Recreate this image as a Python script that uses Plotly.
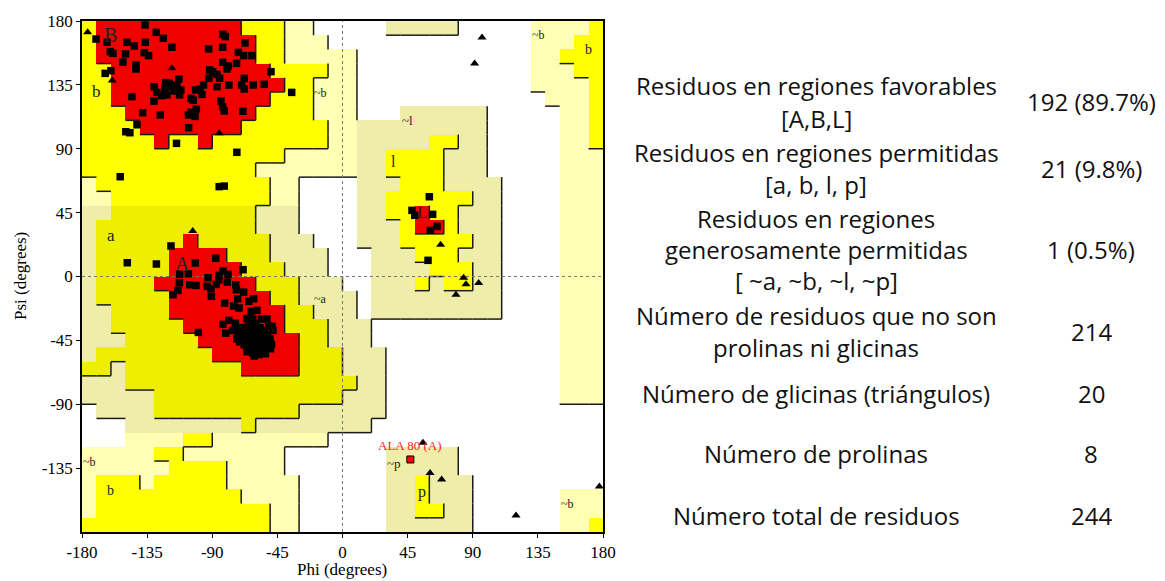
import plotly.graph_objects as go

# ---------------- data ----------------
phi_tick_values = [-180, -135, -90, -45, 0, 45, 90, 135, 180]
phi_tick_labels = ["-180", "-135", "-90", "-45", "0", "45", "90", "135", "180"]
psi_tick_values = [-135, -90, -45, 0, 45, 90, 135, 180]
psi_tick_labels = ["-135", "-90", "-45", "0", "45", "90", "135", "180"]
x_title = "Phi (degrees)"
y_title = "Psi (degrees)"

# Region map, 10-degree cells. Rows: psi 180 -> -180, columns: phi -180 -> 180.
# codes: '.' disallowed, 'p' generous (~b), 'k' generous (~a,~l,~p),
#        'Y' allowed (b,l,p), 'y' allowed (a), 'R' core (A,B,L)
region_runs = [
    "Y1 R10 Y3 p2 .5 k5 .5 p4 Y1",
    "Y1 R11 Y2 p3 .14 p3 Y2",
    "Y1 R11 Y2 p5 .12 p2 Y3",
    "Y2 R11 Y4 p2 .12 p3 Y2",
    "Y2 R12 Y2 p3 .12 p4 Y1",
    "Y2 R11 Y3 p3 .13 p3 Y1",
    "Y3 R9 Y4 p3 .3 k6 .5 p2 Y1",
    "Y4 R7 Y6 p2 k9 .5 p2 Y1",
    "Y5 R1 Y2 R1 Y8 p2 k5 Y2 k2 .5 p2 Y1",
    "Y14 p5 k2 Y4 k3 .5 p3",
    "Y12 p7 k2 Y4 k3 .5 p3",
    "p1 Y12 p2 .4 k3 Y3 k4 .4 p3",
    "p2 Y11 p2 .4 k2 Y6 k2 .4 p3",
    "k2 y10 k3 .4 k2 Y2 R1 Y2 k3 .4 p3",
    "k1 y11 k3 .4 k3 Y1 R2 Y1 k3 .4 p3",
    "k1 y6 R1 y5 k3 .3 k3 Y5 k2 .4 p3",
    "k1 y5 R4 y3 k4 .3 k3 Y3 k3 .4 p3",
    "k1 y5 R5 y3 k3 .3 k4 Y3 k2 .4 p3",
    "k1 y4 R7 y3 k3 .2 k3 Y1 k1 Y2 k2 .4 p3",
    "k1 y5 R7 y2 k4 .1 k9 .4 p3",
    "k2 y4 R8 y2 k3 .1 k9 .4 p3",
    "k2 y5 R7 y3 k3 .13 p3",
    "k3 y5 R7 y2 k3 .13 p3",
    "k1 y8 R6 y3 k3 .12 p3",
    "y2 k1 y8 R4 y3 k3 .12 p3",
    "k3 y16 k2 .12 p3",
    "k5 y13 k3 .12 p3",
    ".1 k4 y10 k6 .15",
    ".3 k8 y1 k8 .16",
    ".3 p4 Y2 p8 .19",
    "p5 Y2 p7 .7 k5 .10",
    "p6 Y4 p4 .7 k5 .10",
    "p1 Y3 p1 Y5 p5 .6 k2 Y1 k3 .9",
    "p1 Y10 p4 .6 k2 Y1 k3 .6 p3",
    "p1 Y12 p2 .6 k2 Y2 k2 .6 p3",
    "Y13 p2 .6 k6 .6 p2 Y1",
]

# non-glycine residues (squares)
sq_phi = [
    -136.4, -170.3, -162.7, -128.7, -123.8, -149.0, -136.3, -143.9, -117.9, -160.5,
    -158.6, -149.9, -137.0, -134.0, -151.7, -142.7, -142.7, -160.0, -164.0, -82.8,
    -81.0, -92.5, -82.8, -67.4, -72.0, -68.3, -62.6, -82.8, -78.9, -79.8,
    -73.2, -49.4, -35.1, -91.8, -89.7, -86.7, -92.3, -84.9, -113.0, -67.9,
    -78.5, -69.7, -67.9, -61.7, -54.1, -86.7, -96.0, -98.5, -101.5, -97.1,
    -122.2, -119.7, -118.1, -114.4, -111.7, -116.3, -130.1, -128.3, -122.7, -121.3,
    -125.0, -112.6, -130.3, -145.5, -104.7, -103.1, -84.0, -82.8, -81.7, -101.0,
    -104.7, -101.9, -106.5, -125.9, -138.1, -68.8, -142.0, -106.3, -149.7, -146.9,
    -114.7, -73.0, -153.6, -85.2, -81.7,
    -118.5, -128.6, -148.7, -101.7, -87.6, -112.5, -106.5, -112.7, -105.6, -101.2,
    -113.7, -117.1, -92.9, -85.3, -82.6, -79.1, -85.5, -79.6, -93.6, -90.9,
    -87.2, -73.8, -73.3, -68.3, -68.7, -90.6, -81.4, -72.4, -64.8, -61.4,
    -63.2, -75.2, -71.5, -78.6, -82.6, -80.7, -99.6, -59.1, -74.0, -53.3,
    -49.8, -48.7, -52.2, -66.0,
    -70.0, -68.0, -66.0, -64.0, -62.0, -60.0, -58.0, -56.0, -54.0, -65.0,
    -63.0, -61.0, -59.0, -57.0, -55.0, -53.0, -67.0, -65.0, -63.0, -61.0,
    -59.0, -62.0, -58.0, -66.0, -68.0, -70.0, -72.0, -60.0, -57.0, -54.0,
    -52.0, -50.0, -51.0, -48.0, -49.0, -56.0, -62.0, -74.0, -76.0, -64.0,
    -60.0, -58.0, -62.0, -64.0, -66.0, -60.0, -63.0, -57.0, -61.0, -65.0,
    -59.0, -55.0, -67.0, -69.0, -53.0, -57.0, -61.0, -66.0, -71.0, -73.0,
    60.0, 48.0, 49.9, 62.3, 65.3, 60.7, 59.1,
]
sq_psi = [
    177.2, 167.3, 165.0, 172.0, 167.8, 165.0, 165.0, 162.4, 161.5, 158.4,
    157.2, 156.8, 157.7, 155.6, 151.1, 149.0, 146.2, 145.0, 143.1, 170.6,
    169.0, 160.3, 161.5, 164.5, 157.9, 155.6, 155.6, 150.9, 148.3, 146.2,
    150.2, 144.3, 129.7, 145.5, 144.3, 142.4, 139.6, 139.6, 139.2, 139.6,
    134.9, 134.9, 132.1, 134.9, 135.4, 133.7, 134.9, 132.1, 131.4, 128.3,
    136.6, 136.1, 133.7, 134.9, 131.4, 130.7, 133.7, 129.7, 132.6, 127.9,
    127.4, 127.9, 123.6, 126.7, 125.5, 124.1, 123.6, 119.6, 116.6, 118.0,
    115.7, 112.8, 113.8, 113.8, 115.4, 116.4, 106.9, 104.8, 102.0, 101.3,
    93.8, 87.5, 70.3, 63.3, 63.7,
    21.5, 8.8, 9.7, 9.5, 12.8, 1.5, 1.9, -4.4, -5.8, -6.3,
    -9.8, -12.8, -0.9, 0.8, 3.9, 1.5, -2.3, -3.9, -6.9, -8.6,
    -5.6, -5.8, -9.3, -11.0, 4.8, -14.0, -18.7, -15.7, -17.5, -15.7,
    -24.6, -20.8, -22.2, -30.9, -33.7, -39.9, -39.4, -23.9, -36.8, -54.4,
    -50.9, -35.1, -29.7, -29.7,
    -36.0, -38.0, -40.0, -42.0, -44.0, -46.0, -48.0, -50.0, -52.0, -35.0,
    -37.0, -39.0, -41.0, -43.0, -45.0, -47.0, -44.0, -46.0, -48.0, -50.0,
    -52.0, -54.0, -55.0, -50.0, -48.0, -43.0, -40.0, -33.0, -36.0, -38.0,
    -41.0, -44.0, -35.0, -38.0, -48.0, -30.0, -30.0, -33.0, -38.0, -52.0,
    -38.0, -40.0, -41.0, -38.0, -42.0, -43.0, -45.0, -46.0, -47.0, -48.0,
    -44.0, -42.0, -39.0, -41.0, -50.0, -53.0, -56.0, -53.0, -46.0, -44.0,
    56.2, 46.6, 43.1, 43.8, 35.3, 32.5, 11.4,
]

# glycines (triangles)
gly_phi = [-176.1, -117.9, -159.1, -85.2, -103.5, 96.4, 91.3, 67.8, 83.7, 85.3,
           94.1, 78.4, 55.6, 60.5, 68.5, 119.9, 177.5]
gly_psi = [172.0, 146.7, 138.0, 100.9, 32.0, 168.3, 150.0, 22.4, -0.9, -5.5,
           -4.6, -12.8, -117.1, -138.5, -143.0, -168.3, -147.9]

# labelled outlier
outlier_phi = [46.9]
outlier_psi = [-128.9]
outlier_label = ["ALA 80 (A)"]

# region labels
region_label_text = ["B", "A", "L", "b", "a", "l", "p", "b", "b",
                     "~b", "~b", "~l", "~a", "~b", "~p", "~b"]
region_label_phi = [-160.4, -110.9, 55.0, -170.1, -160.2, 35.4, 54.7, -160.4, 170.1,
                    -15.3, 135.6, 45.0, -15.3, -174.7, 35.3, 155.2]
region_label_psi = [170.0, 9.0, 45.4, 130.0, 29.0, 80.7, -151.9, -150.7, 159.8,
                    129.3, 170.4, 110.0, -16.1, -130.8, -131.5, -160.6]

# statistics table
stat_labels = [
    ["Residuos en regiones favorables", "[A,B,L]"],
    ["Residuos en regiones permitidas", "[a, b, l, p]"],
    ["Residuos en regiones", "generosamente permitidas", "[ ~a, ~b, ~l, ~p]"],
    ["Número de residuos que no son", "prolinas ni glicinas"],
    ["Número de glicinas (triángulos)"],
    ["Número de prolinas"],
    ["Número total de residuos"],
]
stat_values = ["192 (89.7%)", "21 (9.8%)", "1 (0.5%)", "214", "20", "8", "244"]

# ---------------- build ----------------
CODE_Z = {".": 0, "p": 1, "k": 2, "Y": 3, "y": 4, "R": 5}
CODE_LEVEL = {".": 0, "p": 1, "k": 1, "Y": 2, "y": 2, "R": 3}
COLORS = ["#FFFFFF", "#FFFFB4", "#EEEEAA", "#FFFF00", "#EEEE00", "#F20000"]


def expand(runs):
    s = ""
    for tok in runs.split():
        s += tok[0] * int(tok[1:])
    assert len(s) == 36, (runs, len(s))
    return s


grid = [expand(r) for r in region_runs]
z = [[CODE_Z[ch] for ch in row] for row in grid]
lev = [[CODE_LEVEL[ch] for ch in row] for row in grid]
cell_x = [-175 + 10 * i for i in range(36)]
cell_y = [175 - 10 * j for j in range(36)]

cs = []
n = len(COLORS)
for i, col in enumerate(COLORS):
    cs.append([i / n, col])
    cs.append([(i + 1) / n, col])

fig = go.Figure()
fig.add_trace(go.Heatmap(x=cell_x, y=cell_y, z=z, colorscale=cs, zmin=-0.5, zmax=5.5,
                         showscale=False, hoverinfo="skip"))

# shadow edges (bottom / right edges where level drops)
ex, ey = [], []
for r in range(36):
    for c in range(36):
        L = lev[r][c]
        x0 = -180 + 10 * c
        x1 = x0 + 10
        yt = 180 - 10 * r
        yb = yt - 10
        if r < 35 and L > lev[r + 1][c]:
            ex += [x0, x1, None]
            ey += [yb, yb, None]
        if c < 35 and L > lev[r][c + 1]:
            ex += [x1, x1, None]
            ey += [yt, yb, None]
fig.add_trace(go.Scatter(x=ex, y=ey, mode="lines", line=dict(color="#1a1a1a", width=1.5),
                         hoverinfo="skip", showlegend=False))

# zero reference lines
fig.add_trace(go.Scatter(x=[0, 0], y=[-180, 180], mode="lines",
                         line=dict(color="#777777", width=1, dash="dot"),
                         hoverinfo="skip", showlegend=False))
fig.add_trace(go.Scatter(x=[-180, 180], y=[0, 0], mode="lines",
                         line=dict(color="#777777", width=1, dash="dot"),
                         hoverinfo="skip", showlegend=False))

fig.add_trace(go.Scatter(x=sq_phi, y=sq_psi, mode="markers",
                         marker=dict(symbol="square", size=7.5, color="black"),
                         showlegend=False))
fig.add_trace(go.Scatter(x=gly_phi, y=gly_psi, mode="markers",
                         marker=dict(symbol="triangle-up", size=8, color="black"),
                         showlegend=False))
fig.add_trace(go.Scatter(x=outlier_phi, y=outlier_psi, mode="markers",
                         marker=dict(symbol="square", size=7, color="#FF0000",
                                     line=dict(color="black", width=1)),
                         showlegend=False))

annotations = []
sizes = {"B": 20, "A": 20, "L": 17, "b": 17, "a": 17, "l": 16, "p": 16}
for i, (t, ph, ps) in enumerate(zip(region_label_text, region_label_phi, region_label_psi)):
    sz = sizes.get(t, 12)
    if t == "b" and i >= 7:
        sz = 14
    if t in ("~l", "~p"):
        sz = 13
    annotations.append(dict(x=ph, y=ps, xref="x", yref="y", text=t, showarrow=False,
                            font=dict(family="Liberation Serif", size=sz, color="#222")))
annotations.append(dict(x=outlier_phi[0], y=outlier_psi[0] + 3, xref="x", yref="y",
                        text=outlier_label[0], showarrow=False, yanchor="bottom",
                        font=dict(family="Liberation Serif", size=13, color="#FF2020")))

# page layout (page pixels; the page body adds an 8 px offset)
OFFSET = 8
FIG_W, FIG_H = 1165 - OFFSET, 581 - OFFSET
L_PAGE, R_PAGE, T_PAGE, B_PAGE = 82, 603, 21, 532
PLOT_W, PLOT_H = R_PAGE - L_PAGE, B_PAGE - T_PAGE
label_line_y = [[85, 118], [152, 184], [218, 249, 280], [315, 347], [393], [453], [515]]
value_y = [101, 168, 249, 331, 393, 453, 515]
label_x_px, value_x_px = 816, 1091


def px_to_paper(px, py):
    return (px - L_PAGE) / PLOT_W, (B_PAGE - py) / PLOT_H


axis_font = dict(family="Liberation Serif", size=17, color="black")
tick_font = dict(family="Liberation Serif", size=17, color="black")

# axis titles as annotations for precise placement
xp, yp = px_to_paper(342, 569)
annotations.append(dict(x=xp, y=yp, xref="paper", yref="paper", text=x_title,
                        showarrow=False, xanchor="center", yanchor="middle", font=axis_font))
xp, yp = px_to_paper(20, 276)
annotations.append(dict(x=xp, y=yp, xref="paper", yref="paper", text=y_title,
                        showarrow=False, xanchor="center", yanchor="middle", textangle=-90,
                        font=axis_font))

tfont = dict(family="Open Sans", size=24, color="#111")
for lines, ys, val, vy in zip(stat_labels, label_line_y, stat_values, value_y):
    for txt, py in zip(lines, ys):
        xp, yp = px_to_paper(label_x_px, py)
        annotations.append(dict(x=xp, y=yp, xref="paper", yref="paper", text=txt,
                                showarrow=False, xanchor="center", yanchor="middle",
                                font=tfont))
    xp, yp = px_to_paper(value_x_px, vy)
    annotations.append(dict(x=xp, y=yp, xref="paper", yref="paper", text=val,
                            showarrow=False, xanchor="center", yanchor="middle", font=tfont))

fig.update_layout(
    width=FIG_W, height=FIG_H,
    margin=dict(l=L_PAGE - OFFSET, r=FIG_W - (R_PAGE - OFFSET), t=T_PAGE - OFFSET,
                b=FIG_H - (B_PAGE - OFFSET), autoexpand=False),
    paper_bgcolor="white", plot_bgcolor="white",
    showlegend=False,
    annotations=annotations,
    xaxis=dict(range=[-180, 180], tickvals=phi_tick_values, ticktext=phi_tick_labels,
               ticks="outside", ticklen=4, tickcolor="black", showgrid=False, zeroline=False,
               showline=True, linecolor="black", linewidth=1.5, mirror=True, automargin=False,
               tickfont=tick_font),
    yaxis=dict(range=[-180, 180], tickvals=psi_tick_values, ticktext=psi_tick_labels,
               ticks="outside", ticklen=4, tickcolor="black", showgrid=False, zeroline=False,
               showline=True, linecolor="black", linewidth=1.5, mirror=True, automargin=False,
               tickfont=tick_font),
)

fig.write_html("out.html")
